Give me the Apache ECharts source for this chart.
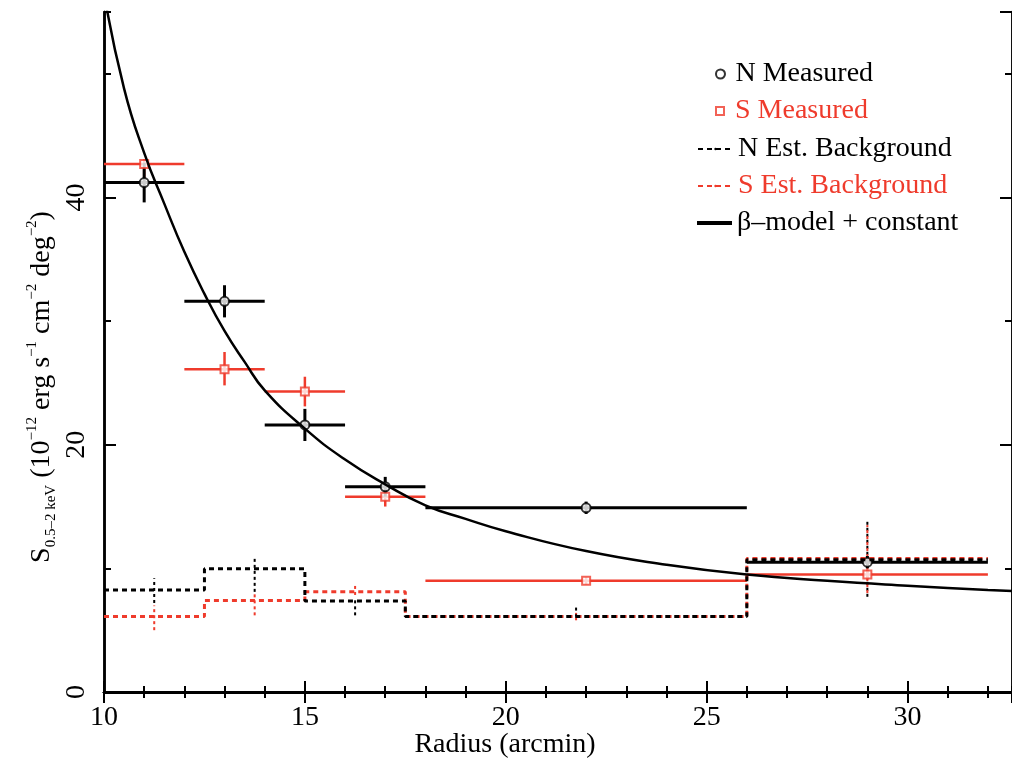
<!DOCTYPE html>
<html>
<head>
<meta charset="utf-8">
<script src="https://cdn.jsdelivr.net/npm/echarts@6/dist/echarts.min.js"></script>
<style>
  html,body{margin:0;padding:0;background:#fff;}
  #chart{width:1012px;height:760px;}
</style>
</head>
<body>
<div id="chart"></div>
<script>
var RED = '#ef3b2c';
var FONT = '"Liberation Serif", "Times New Roman", serif';

// measured points: [x, y, xlo, xhi, ylo, yhi]
var nMeasured = [
  [11, 41.2, 10, 12, 39.6, 42.8],
  [13, 31.6, 12, 14, 30.3, 32.9],
  [15, 21.6, 14, 16, 20.3, 22.9],
  [17, 16.6, 16, 18, 15.8, 17.4],
  [22, 14.9, 18, 26, 14.4, 15.4],
  [29, 10.5, 26, 32, 10.0, 11.0]
];
var sMeasured = [
  [11, 42.7, 10, 12, 41.6, 43.1],
  [13, 26.1, 12, 14, 24.8, 27.5],
  [15, 24.3, 14, 16, 23.1, 25.5],
  [17, 15.8, 16, 18, 15.0, 16.6],
  [22, 9.0, 18, 26, 8.7, 9.3],
  [29, 9.5, 26, 32, 9.1, 9.9]
];

// estimated background, step levels between bin edges
var bgEdges = [10, 12.5, 15, 17.5, 26, 32];
var nBgLevels = [8.26, 9.96, 7.37, 6.1, 10.7];
var sBgLevels = [6.1, 7.4, 8.1, 6.1, 10.8];

// background error bars: [x, ylo, yhi]
var nBgErr = [[11.25, 7.2, 9.2], [13.75, 8.1, 10.85], [16.25, 6.2, 7.6], [21.75, 6.1, 6.9], [29, 7.7, 13.8]];
var sBgErr = [[11.25, 5.0, 7.0], [13.75, 6.2, 8.0], [16.25, 7.85, 8.8], [21.75, 5.8, 6.4], [29, 8.0, 13.5]];

// beta-model + constant curve
var modelX = [10, 10.5, 11, 11.5, 12, 12.5, 13, 13.5, 14, 15, 16, 17, 18, 19, 20, 22, 24, 26, 28, 30, 32, 33];
var modelY = [56.5, 48.8, 43.6, 39.5, 35.6, 32.2, 29.2, 26.7, 24.4, 21.3, 18.8, 16.8, 15.1, 14.0, 13.0, 11.4, 10.3, 9.5, 9.0, 8.6, 8.25, 8.1];

var X_MAX = 32.6, Y_MAX = 55;

function stepData(levels){
  var out = [];
  for (var i = 0; i < levels.length; i++) out.push([bgEdges[i], levels[i]]);
  out.push([bgEdges[bgEdges.length - 1], levels[levels.length - 1]]);
  return out;
}

function errBars(color, width){
  return function(params, api){
    var y = api.value(1);
    var l = api.coord([api.value(2), y]), r = api.coord([api.value(3), y]);
    var b = api.coord([api.value(0), api.value(4)]), t = api.coord([api.value(0), api.value(5)]);
    return {type: 'group', children: [
      {type: 'line', shape: {x1: l[0], y1: l[1], x2: r[0], y2: r[1]}, style: {stroke: color, lineWidth: width}},
      {type: 'line', shape: {x1: b[0], y1: b[1], x2: t[0], y2: t[1]}, style: {stroke: color, lineWidth: width}}
    ]};
  };
}
function bgErrBars(color){
  return function(params, api){
    var b = api.coord([api.value(0), api.value(1)]), t = api.coord([api.value(0), api.value(2)]);
    return {type: 'line', shape: {x1: b[0], y1: b[1], x2: t[0], y2: t[1]},
      style: {stroke: color, lineWidth: 2, lineDash: [3, 3]}};
  };
}

function xAx(pos, interval, len, labels){
  return {type: 'value', position: pos, min: 10, max: X_MAX, interval: interval,
    axisLine: {show: true, lineStyle: {color: '#000', width: 2.5}},
    axisTick: {show: true, inside: true, length: len, lineStyle: {color: '#000', width: 2}},
    axisLabel: {show: labels, showMaxLabel: false, color: '#000', fontFamily: FONT, fontSize: 28, margin: 12},
    splitLine: {show: false}};
}
function yAx(pos, interval, len, labels){
  return {type: 'value', position: pos, min: 0, max: Y_MAX, interval: interval,
    axisLine: {show: true, lineStyle: {color: '#000', width: 2.5}},
    axisTick: {show: true, inside: true, length: len, lineStyle: {color: '#000', width: 2}},
    axisLabel: {show: labels, showMaxLabel: false, rotate: 90, color: '#000', fontFamily: FONT, fontSize: 28, margin: 13},
    splitLine: {show: false}};
}

function leg(name, left, top, w, h, color, extra){
  var l = {data: [name], left: left, top: top, itemWidth: w, itemHeight: h, padding: 0,
    selectedMode: false, textStyle: {color: color, fontFamily: FONT, fontSize: 28}};
  for (var k in extra) l[k] = extra[k];
  return l;
}

var chart = echarts.init(document.getElementById('chart'));
chart.setOption({
  backgroundColor: '#fff',
  animation: false,
  grid: {left: 104, top: 12, width: 911, height: 680},
  xAxis: [xAx('bottom', 1, 6, false), xAx('bottom', 5, 11, true), xAx('top', 1, 6, false), xAx('top', 5, 11, false)],
  yAxis: [yAx('left', 10, 7, false), yAx('left', 20, 12, true), yAx('right', 10, 7, false), yAx('right', 20, 12, false)],
  legend: [
    leg('N Measured', 715, 60, 20, 9, '#000', {icon: 'path://M5,0A5,5,0,1,1,4.99,0Z',
      itemStyle: {color: '#fff', borderColor: '#000', borderWidth: 2}}),
    leg('S Measured', 715, 97, 20, 8, RED, {icon: 'path://M0,0H10V10H0Z',
      itemStyle: {color: '#fff', borderColor: RED, borderWidth: 2}}),
    leg('N Est. Background', 697, 135, 35, 3, '#000'),
    leg('S Est. Background', 697, 172, 35, 3, RED),
    leg('\u03b2\u2013model + constant', 697, 209, 35, 4, '#000', {icon: 'rect'})
  ],
  graphic: [
    {type: 'text', x: 505, y: 745, style: {text: 'Radius (arcmin)', fill: '#000', font: '28px ' + FONT, align: 'center', verticalAlign: 'middle'}},
    {type: 'text', x: 42, y: 387, rotation: Math.PI / 2, style: {
      text: '{a|S}{sub|0.5\u20132 keV}{a| (10}{sup|\u221212}{a| erg s}{sup|\u22121}{a| cm}{sup|\u22122}{a| deg}{sup|\u22122}{a|)}',
      align: 'center', verticalAlign: 'middle',
      rich: {
        a: {fontFamily: FONT, fontSize: 28, lineHeight: 34, fill: '#000'},
        sub: {fontFamily: FONT, fontSize: 15, verticalAlign: 'bottom', lineHeight: 15, fill: '#000'},
        sup: {fontFamily: FONT, fontSize: 15, verticalAlign: 'top', lineHeight: 15, fill: '#000'}
      }}}
  ],
  series: [
    {name: 'S Est. Background', type: 'line', step: 'end', data: stepData(sBgLevels), symbol: 'none',
      lineStyle: {color: RED, width: 3, type: [5, 4]}, itemStyle: {color: RED}},
    {name: 'N Est. Background', type: 'line', step: 'end', data: stepData(nBgLevels), symbol: 'none',
      lineStyle: {color: '#000', width: 3, type: [5, 4]}, itemStyle: {color: '#000'}},
    {name: 'nBgErr', type: 'custom', renderItem: bgErrBars('#000'), data: nBgErr, silent: true},
    {name: 'sBgErr', type: 'custom', renderItem: bgErrBars(RED), data: sBgErr, silent: true},
    {name: '\u03b2\u2013model + constant', type: 'line', smooth: true, symbol: 'none',
      data: modelX.map(function(x, i){ return [x, modelY[i]]; }),
      lineStyle: {color: '#000', width: 2.5}, itemStyle: {color: '#000'}},
    {name: 'sErr', type: 'custom', renderItem: errBars(RED, 2.5), data: sMeasured, silent: true},
    {name: 'nErr', type: 'custom', renderItem: errBars('#000', 3), data: nMeasured, silent: true},
    {name: 'S Measured', type: 'scatter', symbol: 'emptyRect', symbolSize: 8,
      data: sMeasured.map(function(d){ return [d[0], d[1]]; }),
      itemStyle: {color: RED, borderColor: RED, borderWidth: 2}},
    {name: 'N Measured', type: 'scatter', symbol: 'emptyCircle', symbolSize: 9,
      data: nMeasured.map(function(d){ return [d[0], d[1]]; }),
      itemStyle: {color: '#000', borderColor: '#000', borderWidth: 2}}
  ]
});
</script>
</body>
</html>
